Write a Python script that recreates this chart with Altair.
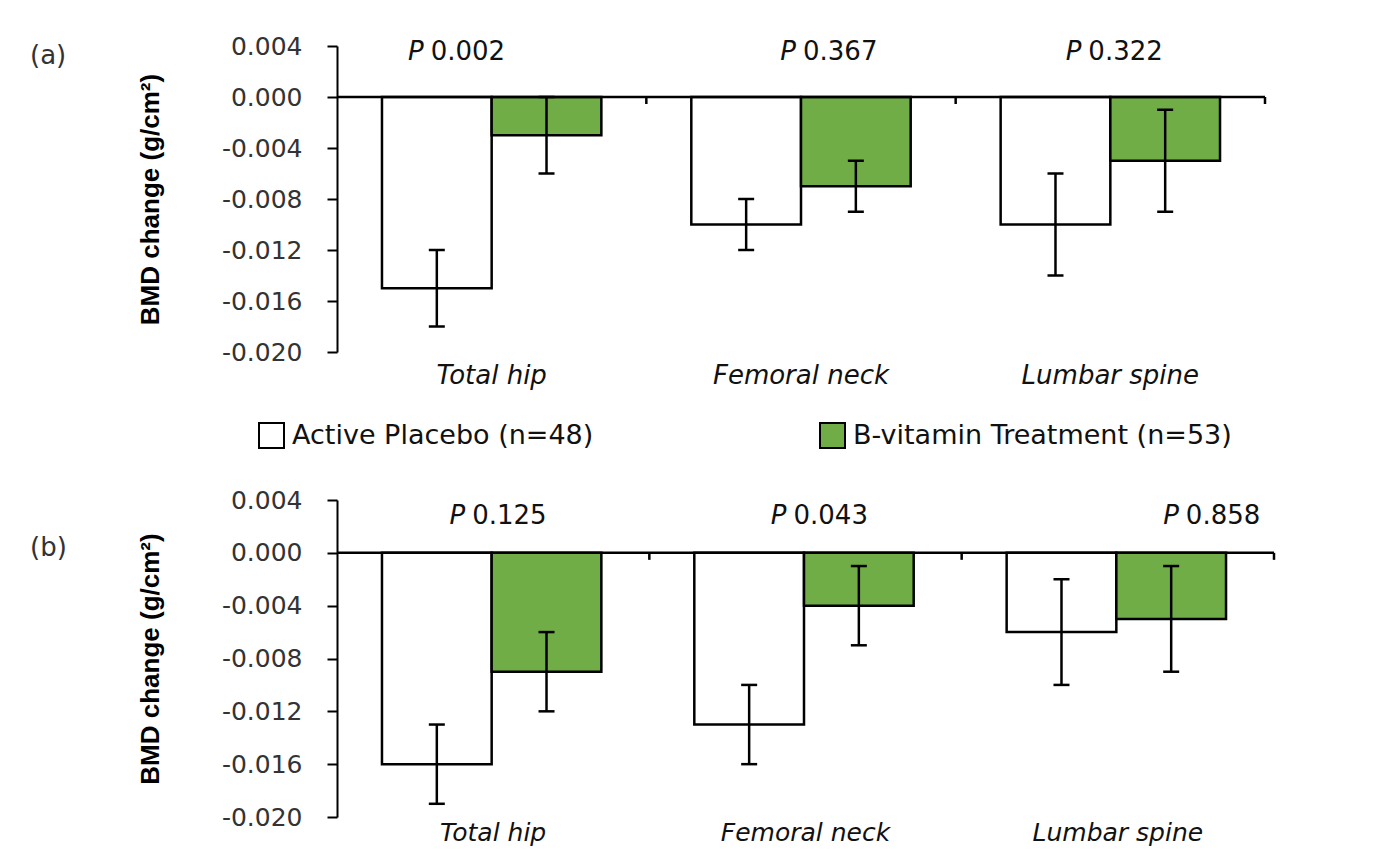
import altair as alt
import pandas as pd

sites = ["Total hip", "Femoral neck", "Lumbar spine"]
groups = ["Active Placebo (n=48)", "B-vitamin Treatment (n=53)"]

a_placebo_mean = [-0.015, -0.010, -0.010]
a_placebo_err = [0.003, 0.002, 0.004]
a_treat_mean = [-0.003, -0.007, -0.005]
a_treat_err = [0.003, 0.002, 0.004]
a_p_values = ["0.002", "0.367", "0.322"]

b_placebo_mean = [-0.016, -0.013, -0.006]
b_placebo_err = [0.003, 0.003, 0.004]
b_treat_mean = [-0.009, -0.004, -0.005]
b_treat_err = [0.003, 0.003, 0.004]
b_p_values = ["0.125", "0.043", "0.858"]

y_ticks = [0.004, 0.000, -0.004, -0.008, -0.012, -0.016, -0.020]

FONT = "DejaVu Sans"
TITLE_FONT = "Liberation Sans Narrow, Liberation Sans, Arial"
GREEN = "#70AD47"


def make_df(pm, pe, tm, te):
    rows = []
    for i, s in enumerate(sites):
        rows.append(dict(site=s, group=groups[0], mean=pm[i], lo=pm[i] - pe[i], hi=pm[i] + pe[i]))
        rows.append(dict(site=s, group=groups[1], mean=tm[i], lo=tm[i] - te[i], hi=tm[i] + te[i]))
    return pd.DataFrame(rows)


def panel(tag, df, p_values, p_dx, p_y, width, height, tick_len, xlab_pad, xlab_size):
    x_axis = alt.Axis(title=None, domain=False, ticks=False, tickSize=0, labelAngle=0,
                      labelFont=FONT, labelFontSize=xlab_size, labelFontStyle="italic",
                      labelColor="#111111", labelPadding=xlab_pad)
    x_scale = alt.Scale(domain=sites, paddingInner=0, paddingOuter=0)

    def X(**kw):
        return alt.X("site:N", sort=sites, scale=x_scale, axis=x_axis, **kw)

    xo = alt.XOffset("group:N", sort=groups,
                     scale=alt.Scale(domain=groups, paddingInner=0, paddingOuter=0.41))
    y_axis = alt.Axis(title="BMD change (g/cm²)", values=y_ticks, grid=False,
                      labelExpr="replace(format(datum.value, '.3f'), '\u2212', '-')",
                      labelFont=FONT, labelFontSize=25, labelColor="#333333", labelPadding=25,
                      tickColor="black", tickWidth=2, tickSize=10,
                      domainColor="black", domainWidth=2,
                      titleFont=TITLE_FONT, titleFontSize=26, titleFontWeight="bold",
                      titleColor="black", titlePadding=58)
    y_scale = alt.Scale(domain=[-0.020, 0.004], nice=False)

    def Y(field):
        return alt.Y(field, scale=y_scale, axis=y_axis)

    color = alt.Color("group:N", sort=groups,
                      scale=alt.Scale(domain=groups, range=["#ffffff", GREEN]),
                      legend=alt.Legend(title=None, orient="none", direction="horizontal",
                                        columns=2, legendX=-79, legendY=376,
                                        symbolType="square", symbolSize=625,
                                        symbolStrokeColor="black", symbolStrokeWidth=2,
                                        symbolOpacity=1, labelFont=FONT, labelFontSize=27,
                                        labelColor="#111111", labelOffset=7, labelLimit=0,
                                        columnPadding=222, padding=0))

    base = alt.Chart(df)
    bars = base.mark_bar(stroke="black", strokeWidth=2.5, opacity=1).encode(
        x=X(), xOffset=xo, y=Y("mean:Q"), color=color)
    err = base.mark_rule(color="black", strokeWidth=2.5).encode(
        x=X(), xOffset=xo, y=Y("lo:Q"), y2="hi:Q")
    cap_lo = base.mark_tick(color="black", thickness=2.5, size=16, opacity=1).encode(
        x=X(), xOffset=xo, y=Y("lo:Q"))
    cap_hi = base.mark_tick(color="black", thickness=2.5, size=16, opacity=1).encode(
        x=X(), xOffset=xo, y=Y("hi:Q"))

    zero = alt.Chart(pd.DataFrame({"v": [0.0]})).mark_rule(color="black", strokeWidth=2.5).encode(
        x=alt.value(0), x2=alt.value(width), y=Y("v:Q"))
    bounds = alt.Chart(pd.DataFrame({"site": sites, "y0": [0.0] * 3, "y1": [-tick_len] * 3})).mark_rule(
        color="black", strokeWidth=2.5).encode(
        x=X(bandPosition=1), y=Y("y0:Q"), y2="y1:Q")

    layers = [bars, err, cap_lo, cap_hi, zero, bounds]
    for i, s in enumerate(sites):
        pdf = pd.DataFrame({"site": [s], "p": [p_values[i]], "yy": [p_y]})
        layers.append(alt.Chart(pdf).mark_text(
            align="right", baseline="middle", dx=p_dx[i] - 34, font=FONT, fontSize=26,
            fontStyle="italic", color="#111111").encode(x=X(), y=Y("yy:Q"), text=alt.value("P")))
        layers.append(alt.Chart(pdf).mark_text(
            align="left", baseline="middle", dx=p_dx[i] - 27, font=FONT, fontSize=26,
            color="#111111").encode(x=X(), y=Y("yy:Q"), text="p:N"))

    label = alt.Chart(pd.DataFrame({"t": [tag]})).mark_text(
        align="left", baseline="middle", font=FONT, fontSize=26, color="#333333").encode(
        x=alt.value(-307), y=alt.value(10 if tag == "(a)" else 48), text="t:N")
    layers.append(label)

    return alt.layer(*layers).properties(width=width, height=height)


df_a = make_df(a_placebo_mean, a_placebo_err, a_treat_mean, a_treat_err)
df_b = make_df(b_placebo_mean, b_placebo_err, b_treat_mean, b_treat_err)

pa = panel("(a)", df_a, a_p_values, [-34, 29, 5], 0.0035, 928, 306, 0.00055, 10, 26)
pb = panel("(b)", df_b, b_p_values, [6, 15, 95], 0.0028, 937, 317, 0.00053, 3, 25)

chart = alt.vconcat(pa, pb, spacing=100).properties(
    padding={"left": 22, "top": 26, "right": 5, "bottom": 5}
).configure_view(stroke=None)

chart.save("out.html", embed_options={"renderer": "svg", "actions": False})
